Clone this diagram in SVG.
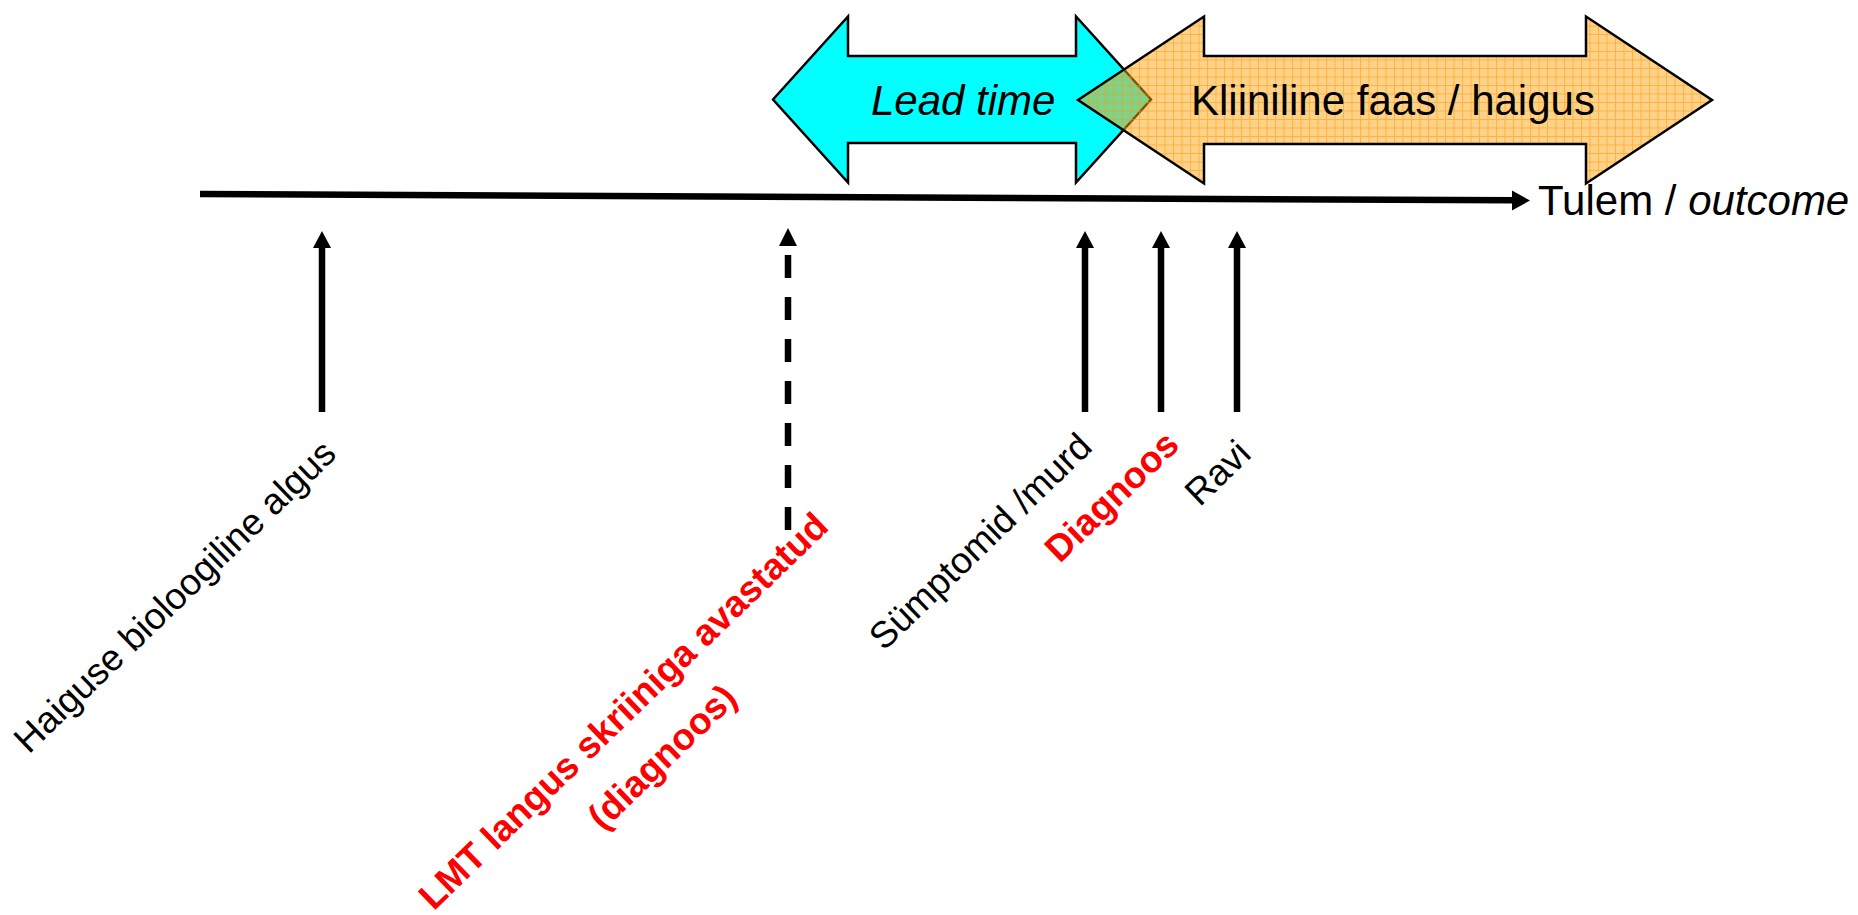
<svg xmlns="http://www.w3.org/2000/svg" width="1858" height="915" viewBox="0 0 1858 915">
  <style>
    .lbl { font-family: "Liberation Sans", Arial, sans-serif; fill: #000; }
    .big { font-size: 42px; }
    .rot { font-size: 37px; }
    .red { fill: #FF0000; font-weight: bold; }
    .it { font-style: italic; }
    .shaft { stroke: #000; stroke-width: 6.5; fill: none; }
    .head { fill: #000; }
    .outline { stroke: #000; stroke-width: 2.5; stroke-linejoin: miter; }
  </style>
  <defs>
    <!-- light orange fill with a small orange grid -->
    <pattern id="grid" width="8.5" height="8.5" patternUnits="userSpaceOnUse">
      <rect width="8.5" height="8.5" fill="#FFA514" fill-opacity="0.5"/>
      <path d="M0 0.5 H8.5 M0.5 0 V8.5" stroke="#FF9900" stroke-width="1" stroke-opacity="0.55"/>
    </pattern>
  </defs>

  <rect width="1858" height="915" fill="#FFFFFF"/>

  <!-- lead time double arrow -->
  <g id="lead-time">
    <polygon class="outline" fill="#00FFFF"
      points="773,99.5 848,16.5 848,56 1076,56 1076,16.5 1151,99.5 1076,182.5 1076,143 848,143 848,182.5"/>
    <text class="lbl big it" x="871" y="115">Lead time</text>
  </g>

  <!-- clinical phase double arrow -->
  <g id="clinical-phase">
    <polygon class="outline" fill="url(#grid)"
      points="1078,100 1204,16.5 1204,56 1586,56 1586,16.5 1712,100 1586,183.5 1586,144 1204,144 1204,183.5"/>
    <text class="lbl big" x="1191" y="115">Kliiniline faas / haigus</text>
  </g>

  <g id="connectors">
    <!-- time axis -->
    <line class="shaft" x1="200" y1="194" x2="1514" y2="200.3"/>
    <polygon class="head" points="1530,200.5 1512,190.5 1512,210.5"/>

    <!-- event markers -->
    <line class="shaft" x1="322" y1="246" x2="322" y2="412"/>
    <polygon class="head" points="322,231 313,248 331,248"/>

    <line class="shaft" x1="788" y1="255" x2="788" y2="530" stroke-dasharray="23 19"/>
    <polygon class="head" points="788,228 779,246 797,246"/>

    <line class="shaft" x1="1085" y1="246" x2="1085" y2="412"/>
    <polygon class="head" points="1085,231 1076,248 1094,248"/>

    <line class="shaft" x1="1161" y1="246" x2="1161" y2="412"/>
    <polygon class="head" points="1161,231 1152,248 1170,248"/>

    <line class="shaft" x1="1237" y1="246" x2="1237" y2="412"/>
    <polygon class="head" points="1237,231 1228,248 1246,248"/>
  </g>

  <g id="outcome">
    <text class="lbl big" x="1538" y="215">Tulem / <tspan class="it">outcome</tspan></text>
  </g>

  <g id="onset">
    <text class="lbl rot" text-anchor="end" transform="translate(338,456) rotate(-44)">Haiguse bioloogiline algus</text>
  </g>

  <g id="screening">
    <g transform="translate(632,720) rotate(-44)">
      <text class="lbl rot red" text-anchor="middle" x="0" y="0">LMT langus skriiniga avastatud</text>
      <text class="lbl rot red" text-anchor="middle" x="-4" y="60">(diagnoos)</text>
    </g>
  </g>

  <g id="symptoms">
    <text class="lbl rot" text-anchor="end" transform="translate(1094,449) rotate(-44)">Sümptomid /murd</text>
  </g>

  <g id="diagnosis">
    <text class="lbl rot red" text-anchor="end" transform="translate(1181,447) rotate(-44)">Diagnoos</text>
  </g>

  <g id="treatment">
    <text class="lbl rot" text-anchor="end" transform="translate(1253,456) rotate(-44)">Ravi</text>
  </g>
</svg>
